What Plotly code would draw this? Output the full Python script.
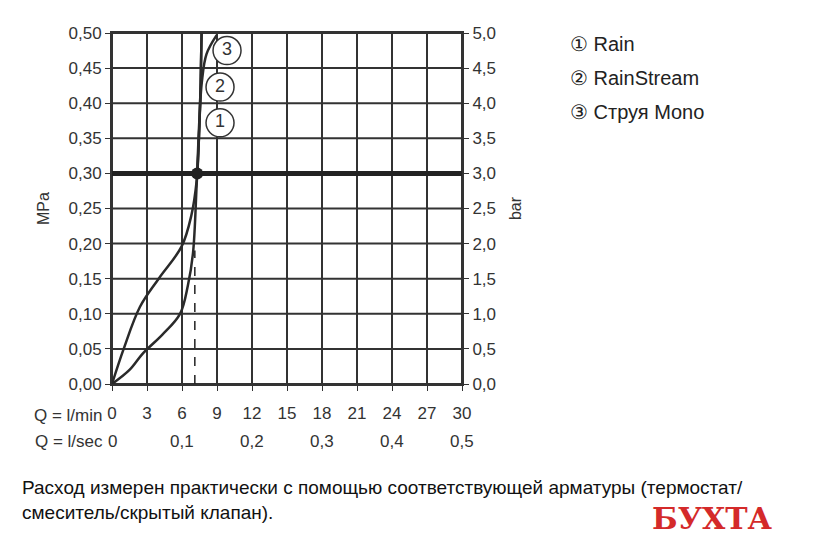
import plotly.graph_objects as go

# кривые расхода (l/min, MPa)
q_rain = [0, 1.0, 2.4, 4.0, 5.97, 6.8, 7.26, 7.45, 7.6, 7.68]
p_rain = [0, 0.05, 0.11, 0.15, 0.196, 0.24, 0.29, 0.35, 0.43, 0.5]
q_stream = [0, 1.5, 2.67, 4.3, 5.83, 6.5, 6.94, 7.26, 7.45, 7.6, 7.68]
p_stream = [0, 0.02, 0.044, 0.07, 0.10, 0.14, 0.186, 0.285, 0.35, 0.43, 0.5]
q_mono = [7.3, 7.5, 7.7, 8.1, 8.97]
p_mono = [0.30, 0.38, 0.43, 0.47, 0.497]

x_ticks = [0, 3, 6, 9, 12, 15, 18, 21, 24, 27, 30]
sec_labels = ['0', '0,1', '0,2', '0,3', '0,4', '0,5']
sec_pos = [0, 6, 12, 18, 24, 30]
y_ticks = [0, 0.05, 0.10, 0.15, 0.20, 0.25, 0.30, 0.35, 0.40, 0.45, 0.50]
legend_items = ['① Rain', '② RainStream', '③ Струя Mono']

FONT = 'Liberation Sans'
fig = go.Figure()

# сетка
for v in x_ticks:
    fig.add_shape(type='line', x0=v, x1=v, y0=0, y1=0.5, layer='below', line=dict(color='#333', width=2))
for v in y_ticks:
    fig.add_shape(type='line', x0=0, x1=30, y0=v, y1=v, layer='below', line=dict(color='#333', width=2))

line = dict(color='#2a2a2a', width=2.5)
fig.add_trace(go.Scatter(x=q_rain, y=p_rain, mode='lines', line_shape='spline', line=line))
fig.add_trace(go.Scatter(x=q_stream, y=p_stream, mode='lines', line_shape='spline', line=line))
fig.add_trace(go.Scatter(x=q_mono, y=p_mono, mode='lines', line_shape='spline', line=line))
fig.add_shape(type='line', x0=0, x1=30, y0=0.30, y1=0.30, line=dict(color='#222', width=5))
fig.add_shape(type='line', x0=7.1, x1=7.1, y0=0, y1=0.19, line=dict(color='#222', width=1.5, dash='dash'))
fig.add_trace(go.Scatter(x=[7.3], y=[0.30], mode='markers', marker=dict(size=12, color='#222')))
# номера кривых в кружках
fig.add_trace(go.Scatter(x=[9.26, 9.26, 9.86], y=[0.372, 0.423, 0.475], mode='markers+text',
                         text=['1', '2', '3'], textfont=dict(family=FONT, size=18, color='#333'),
                         marker=dict(size=28, color='white', line=dict(color='#333', width=1.5))))

ax = dict(showgrid=False, linecolor='#333', linewidth=2,
          mirror=True, ticks='outside', ticklen=5, tickcolor='#333', zeroline=False,
          tickfont=dict(family=FONT, size=17, color='#333'))
fig.update_layout(
    width=840, height=550, showlegend=False,
    paper_bgcolor='white', plot_bgcolor='white',
    margin=dict(l=104, r=386, t=25, b=174),
    xaxis=dict(ax, range=[0, 30], tickvals=x_ticks, ticklabelstandoff=8),
    yaxis=dict(ax, range=[0, 0.5], tickvals=y_ticks,
               ticktext=[f'{v:.2f}'.replace('.', ',') for v in y_ticks],
               title=dict(text='MPa', font=dict(family=FONT, size=16, color='#333'))),
    yaxis2=dict(ax, overlaying='y', side='right', range=[0, 5],
                tickvals=[v * 10 for v in y_ticks],
                ticktext=[f'{v * 10:.1f}'.replace('.', ',') for v in y_ticks],
                title=dict(text='bar', font=dict(family=FONT, size=16, color='#333'))),
)
fig.add_trace(go.Scatter(x=[0], y=[0], yaxis='y2', mode='markers', marker=dict(opacity=0)))

def txt(x, y, s, size=17, color='#333', xa='left', family=FONT):
    fig.add_annotation(xref='paper', yref='paper', x=x, y=y, text=s, showarrow=False,
                       xanchor=xa, yanchor='middle',
                       font=dict(family=family, size=size, color=color))

W, H = 350, 351
px = lambda X: (X - 112) / W
py = lambda Y: (384 - Y) / H
txt(px(105), py(415), 'Q = l/min', xa='right')
txt(px(105), py(441), 'Q = l/sec', xa='right')
for lab, p in zip(sec_labels, sec_pos):
    fig.add_annotation(x=p, y=py(441), yref='paper', yanchor='middle', text=lab, showarrow=False,
                       font=dict(family=FONT, size=17, color='#333'))
for i, s in enumerate(legend_items):
    txt(px(568), py(44 + i * 34), s, size=20, color='#222')
txt(px(20), py(487), 'Расход измерен практически с помощью соответствующей арматуры (термостат/', size=19, color='#111')
txt(px(20), py(512), 'смеситель/скрытый клапан).', size=19, color='#111')
txt(px(712), py(518), '<b>БУХТА</b>', size=30, color='#d42a2a', xa='center', family='DejaVu Serif')

fig.write_html('out.html')
